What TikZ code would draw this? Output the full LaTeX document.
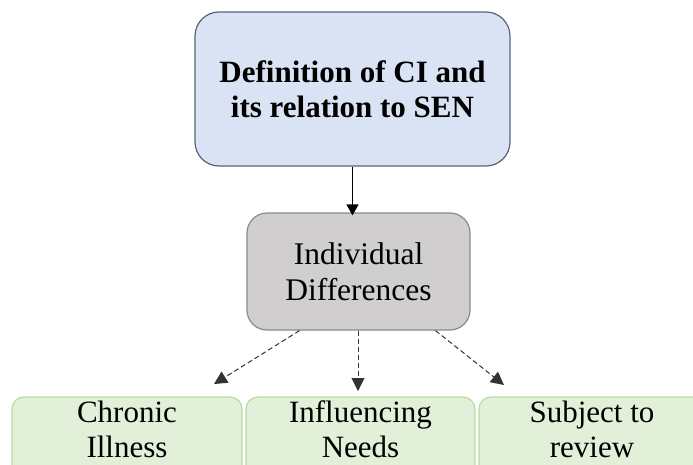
\documentclass[tikz,border=0pt]{standalone}
\usepackage{fontspec}
\setmainfont{Liberation Serif}
\usetikzlibrary{arrows.meta}
\definecolor{topfill}{HTML}{DAE3F3}
\definecolor{topline}{HTML}{566479}
\definecolor{grayfill}{HTML}{D0CECE}
\definecolor{grayline}{HTML}{8A8A8A}
\definecolor{greenfill}{HTML}{E2F0D9}
\definecolor{greenline}{HTML}{B5DDA2}
% two centred lines, lifted inside a box that runs past the lower edge
\newcommand{\liftedpair}[2]{\raisebox{9pt}[\height][\depth]{\begin{tabular}{@{}c@{}}#1\\#2\end{tabular}}}
\begin{document}
\begin{tikzpicture}[x=1pt,y=-1pt,
  topbox/.style={draw=topline, fill=topfill, line width=1.2pt, rounded corners=24pt,
    minimum width=315pt, minimum height=154pt, align=center,
    font=\fontsize{31}{35}\selectfont\bfseries},
  midbox/.style={draw=grayline, fill=grayfill, line width=1.2pt, rounded corners=20pt,
    minimum width=223pt, minimum height=117pt, align=center,
    font=\fontsize{31.5}{36}\selectfont},
  leafbox/.style={draw=greenline, fill=greenfill, line width=1.2pt, rounded corners=12pt,
    minimum height=90pt, inner sep=0pt,
    font=\fontsize{31}{35}\selectfont},
  solidarrow/.style={line width=1.2pt, -{Triangle[length=11pt,width=12pt]}},
  dasharrow/.style={line width=1pt, draw=black!80, dash pattern=on 5pt off 3pt,
    -{Triangle[length=13pt,width=13pt]}}]
\useasboundingbox (0,0) rectangle (693,464);

\node[topbox] (def) at (352.5,89) {Definition of CI and\\its relation to SEN};
\node[midbox] (diff) at (358.5,271.5) {Individual\\Differences};

\node[leafbox, minimum width=230pt] (chronic) at (127,442) {\liftedpair{Chronic}{Illness}};
\node[leafbox, minimum width=229pt] (needs) at (360.5,442) {\liftedpair{Influencing}{Needs}};
\node[leafbox, minimum width=226pt] (review) at (592,442) {\liftedpair{Subject to}{review}};

% free ends of the dashed arrows, short of the lower boxes
\coordinate (tipA) at (214,384);
\coordinate (tipB) at (358,391);
\coordinate (tipC) at (504,385);

\draw[solidarrow] (def.south) -- ([yshift=-3pt]diff.north -| def.south);
\draw[dasharrow] ([xshift=-59pt]diff.south) -- (tipA);
\draw[dasharrow] (diff.south -| tipB) -- (tipB);
\draw[dasharrow] ([xshift=77pt]diff.south) -- (tipC);
\end{tikzpicture}
\end{document}
